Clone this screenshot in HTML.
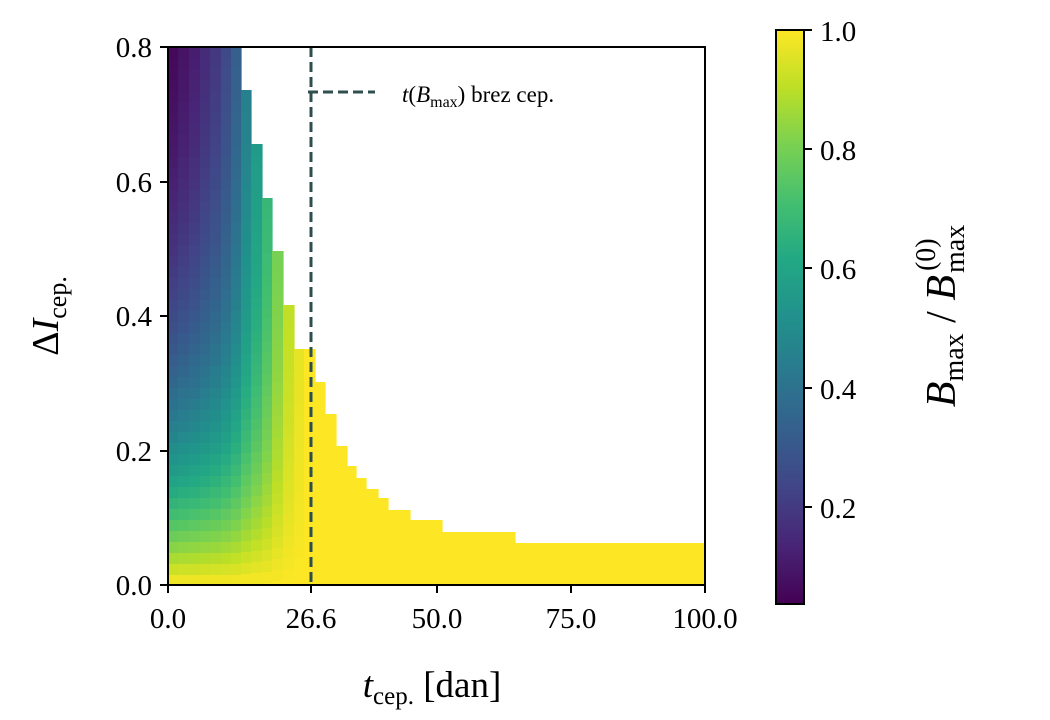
<!DOCTYPE html>
<html><head><meta charset="utf-8"><style>
body{margin:0;background:#fff;}
svg{display:block;font-family:"Liberation Serif",serif;}
</style></head><body>
<svg id="s" width="1050" height="720" xmlns="http://www.w3.org/2000/svg">
<defs>
<linearGradient id="cb" x1="0" y1="1" x2="0" y2="0">
<stop offset="0" stop-color="#440154"/><stop offset="0.1" stop-color="#482475"/>
<stop offset="0.2" stop-color="#414487"/><stop offset="0.3" stop-color="#355f8d"/>
<stop offset="0.4" stop-color="#2a788e"/><stop offset="0.5" stop-color="#21918c"/>
<stop offset="0.6" stop-color="#22a884"/><stop offset="0.7" stop-color="#44bf70"/>
<stop offset="0.8" stop-color="#7ad151"/><stop offset="0.9" stop-color="#bddf26"/>
<stop offset="1" stop-color="#fde725"/>
</linearGradient>
</defs>
<g id="heat"></g>
<line x1="311" y1="47" x2="311" y2="585" stroke="#2f4f4f" stroke-width="3" stroke-dasharray="10,5"/>
<line x1="308" y1="92" x2="375" y2="92" stroke="#2f4f4f" stroke-width="3" stroke-dasharray="10,5"/>
<text x="402" y="102" font-size="23"><tspan font-style="italic">t</tspan>(<tspan font-style="italic">B</tspan><tspan font-size="16" dy="5">max</tspan><tspan dy="-5">) brez cep.</tspan></text>
<rect x="168" y="47" width="537" height="538" fill="none" stroke="#000" stroke-width="2"/>
<g stroke="#000" stroke-width="2">
<line x1="160" y1="585" x2="168" y2="585"/><line x1="160" y1="451" x2="168" y2="451"/>
<line x1="160" y1="316" x2="168" y2="316"/><line x1="160" y1="182" x2="168" y2="182"/>
<line x1="160" y1="47" x2="168" y2="47"/>
<line x1="168" y1="585" x2="168" y2="593"/><line x1="311" y1="585" x2="311" y2="593"/>
<line x1="437" y1="585" x2="437" y2="593"/><line x1="571" y1="585" x2="571" y2="593"/>
<line x1="705" y1="585" x2="705" y2="593"/>
</g>
<g font-size="29" text-anchor="end">
<text x="152" y="595">0.0</text><text x="152" y="461">0.2</text><text x="152" y="326">0.4</text>
<text x="152" y="192">0.6</text><text x="152" y="57">0.8</text>
</g>
<g font-size="29" text-anchor="middle">
<text x="168" y="628">0.0</text><text x="311" y="628">26.6</text><text x="437" y="628">50.0</text>
<text x="571" y="628">75.0</text><text x="705" y="628">100.0</text>
</g>
<text x="432" y="697" font-size="37" text-anchor="middle"><tspan font-style="italic">t</tspan><tspan font-size="25" dy="7">cep.</tspan><tspan dy="-7"> [dan]</tspan></text>
<text transform="translate(58,316) rotate(-90)" font-size="38" text-anchor="middle">Δ<tspan font-style="italic">I</tspan><tspan font-size="26" dy="8">cep.</tspan></text>
<rect x="776" y="30" width="28" height="574" fill="url(#cb)" stroke="#000" stroke-width="2"/>
<g stroke="#000" stroke-width="2">
<line x1="804" y1="30" x2="812" y2="30"/><line x1="804" y1="149" x2="812" y2="149"/>
<line x1="804" y1="268" x2="812" y2="268"/><line x1="804" y1="388" x2="812" y2="388"/>
<line x1="804" y1="507" x2="812" y2="507"/>
</g>
<g font-size="29">
<text x="820" y="41">1.0</text><text x="820" y="160">0.8</text><text x="820" y="279">0.6</text>
<text x="820" y="399">0.4</text><text x="820" y="518">0.2</text>
</g>
<g transform="translate(955,316) rotate(-90)" font-size="42">
<text id="cl1" x="-114" y="0"><tspan font-style="italic">B</tspan><tspan font-size="28" dy="8">max</tspan><tspan dy="-8"> / </tspan><tspan font-style="italic">B</tspan></text>
<text id="cl2" x="0" y="9" font-size="28">max</text>
<text id="cl3" x="0" y="-20" font-size="28">(0)</text>
</g>
</svg>
<script>
var V=[[68,1,84],[72,36,117],[65,68,135],[53,95,141],[42,120,142],[33,145,140],[34,168,132],[68,191,112],[122,209,81],[189,223,38],[253,231,37]];
function col(v){v=Math.max(0,Math.min(1,v));var f=v*10,i=Math.min(9,Math.floor(f)),t=f-i;var a=V[i],b=V[i+1];
return "rgb("+[0,1,2].map(function(k){return Math.round(a[k]+(b[k]-a[k])*t)}).join(",")+")";}
var cols=[[168,178,47,0.02],[178,189,47,0.05],[189,200,47,0.08],[200,210,47,0.12],[210,221,47,0.16],[221,231,47,0.22],[231,241,47,0.3],[241,251,90,0.42],[251,262,144,0.52],[262,272,198,0.63],[272,283,251,0.76],[283,294,305,0.88],[294,304,349,0.95],
[304,315,349,1],[315,325,382,1],[325,336,414,1],[336,347,446,1],[347,356,466,1],[356,366,478,1],[366,378,489,1],[378,388,498,1],[388,410,510,1],[410,442,520,1],[442,515,532,1],[515,705,543,1]];
var g=document.getElementById("heat"),h="";
function G(y){return 1-Math.exp(-y/0.3);}
var g8=G(0.8);
cols.forEach(function(c){
 if(c[3]>=1){h+='<rect x="'+c[0]+'" y="'+c[2]+'" width="'+(c[1]-c[0]+0.6)+'" height="'+(585-c[2])+'" fill="'+col(1)+'"/>';return;}
 for(var y=c[2];y<585;y+=11){var yy=Math.min(585,y+11);var val=(585-(y+yy)/2)/672.5;
  var v=1-(1-c[3])*G(val)/g8;
  h+='<rect x="'+c[0]+'" y="'+y+'" width="'+(c[1]-c[0]+0.6)+'" height="'+(yy-y+0.6)+'" fill="'+col(v)+'"/>';}
});
g.innerHTML=h;
var c1=document.getElementById("cl1"),c2=document.getElementById("cl2"),c3=document.getElementById("cl3");
var L1=c1.getComputedTextLength(),L2=c2.getComputedTextLength();
var tot=L1+L2+2,st=-tot/2;
c1.setAttribute("x",st);c2.setAttribute("x",st+L1+2);c3.setAttribute("x",st+L1+4);
</script>
</body></html>
